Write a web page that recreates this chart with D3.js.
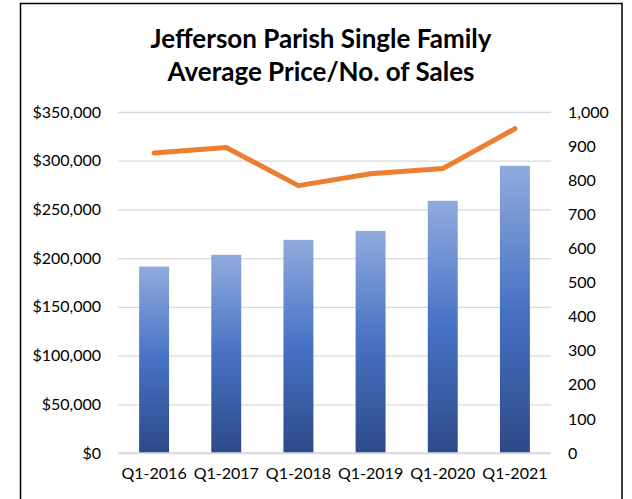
<!DOCTYPE html>
<html>
<head>
<meta charset="utf-8">
<script src="https://cdn.jsdelivr.net/npm/d3@7"></script>
<style>
  body { margin: 0; background: #fff; }
  text { font-family: Lato, "Open Sans", sans-serif; fill: #000; }
  .title { font-size: 26px; font-weight: bold; }
  .tick text { font-size: 16px; }
  .grid line { stroke: #d9d9d9; stroke-width: 1.3; }
</style>
</head>
<body>
<div id="chart"></div>
<script>
// data
const quarters = ["Q1-2016", "Q1-2017", "Q1-2018", "Q1-2019", "Q1-2020", "Q1-2021"];
const avgPrice = [191400, 203400, 218800, 228000, 258900, 294800];
const numSales = [880, 896, 784, 819, 834, 951];
const priceTicks = [0, 50000, 100000, 150000, 200000, 250000, 300000, 350000];
const salesTicks = [0, 100, 200, 300, 400, 500, 600, 700, 800, 900, 1000];

const W = 632, H = 499;
const margin = {top: 112, right: 81, bottom: 46, left: 118};
const width = W - margin.left - margin.right;
const height = H - margin.top - margin.bottom;

const svg = d3.select("#chart")
  .append("svg")
    .attr("width", W)
    .attr("height", H);

// outer frame
svg.append("rect")
    .attr("x", 20.5)
    .attr("y", 3.5)
    .attr("width", 601.5)
    .attr("height", H + 10)
    .attr("fill", "none")
    .attr("stroke", "#000")
    .attr("stroke-width", 1.5);

// bar gradient
const defs = svg.append("defs");
const grad = defs.append("linearGradient")
    .attr("id", "barGrad")
    .attr("x1", 0).attr("y1", 0)
    .attr("x2", 0).attr("y2", 1);
grad.append("stop").attr("offset", "0%").attr("stop-color", "#90ABDD");
grad.append("stop").attr("offset", "50%").attr("stop-color", "#4672C4");
grad.append("stop").attr("offset", "100%").attr("stop-color", "#2D4A87");

const g = svg.append("g")
    .attr("transform", "translate(" + margin.left + "," + margin.top + ")");

const xScale = d3.scaleBand()
  .domain(quarters)
  .range([0, width])
  .paddingInner(0.585)
  .paddingOuter(0.2925);

const yLeft = d3.scaleLinear()
  .domain([0, 350000])
  .range([height, 0]);

const yRight = d3.scaleLinear()
  .domain([0, 1000])
  .range([height, 0]);

// grid lines
g.append("g")
    .attr("class", "grid")
  .call(d3.axisLeft(yLeft).tickValues(priceTicks).tickSize(-width).tickFormat(""))
  .call(function(s) { s.select(".domain").remove(); });

// left axis
g.append("g")
  .call(d3.axisLeft(yLeft).tickValues(priceTicks).tickSize(0).tickPadding(17)
    .tickFormat(function(d) { return "$" + d3.format(",")(d); }))
  .call(function(s) { s.select(".domain").remove(); });

// right axis
g.append("g")
    .attr("transform", "translate(" + width + ",0)")
  .call(d3.axisRight(yRight).tickValues(salesTicks).tickSize(0).tickPadding(17)
    .tickFormat(d3.format(",")))
  .call(function(s) { s.select(".domain").remove(); });

// bottom axis
g.append("g")
    .attr("transform", "translate(0," + height + ")")
  .call(d3.axisBottom(xScale).tickSize(0).tickPadding(15))
  .call(function(s) { s.select(".domain").remove(); });

// bars
g.append("g")
  .selectAll("rect")
  .data(avgPrice)
  .enter()
  .append("rect")
    .attr("x", function(d, i) { return xScale(quarters[i]); })
    .attr("y", function(d) { return yLeft(d); })
    .attr("width", xScale.bandwidth())
    .attr("height", function(d) { return height - yLeft(d); })
    .attr("fill", "url(#barGrad)");

// baseline on top of bars
g.append("line")
    .attr("x1", 0).attr("x2", width)
    .attr("y1", height).attr("y2", height)
    .attr("stroke", "#d9d9d9")
    .attr("stroke-width", 1.3);

// sales line
const line = d3.line()
  .x(function(d, i) { return xScale(quarters[i]) + xScale.bandwidth() / 2; })
  .y(function(d) { return yRight(d); });

g.append("path")
    .datum(numSales)
    .attr("fill", "none")
    .attr("stroke", "#ED7D31")
    .attr("stroke-width", 5)
    .attr("stroke-linecap", "round")
    .attr("stroke-linejoin", "round")
    .attr("d", line);

// title
const titleLines = ["Jefferson Parish Single Family", "Average Price/No. of Sales"];
svg.selectAll(".title")
  .data(titleLines)
  .enter()
  .append("text")
    .attr("class", "title")
    .attr("x", 321)
    .attr("y", function(d, i) { return 48 + i * 33; })
    .attr("text-anchor", "middle")
    .text(function(d) { return d; });
</script>
</body>
</html>
